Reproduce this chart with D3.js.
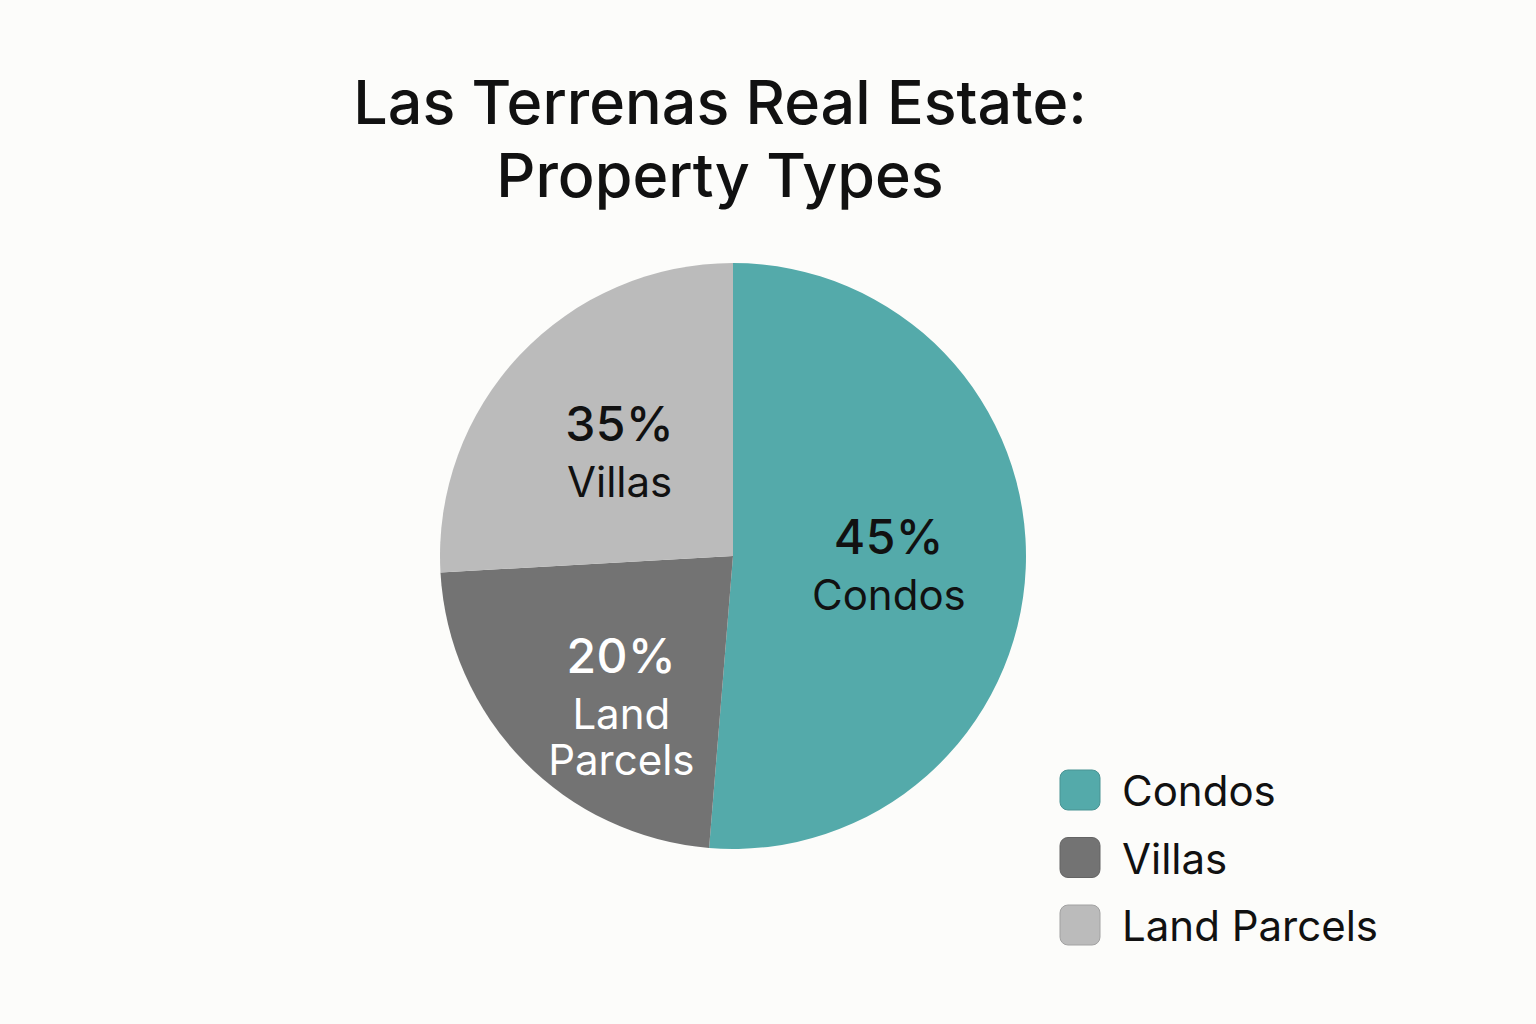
<!DOCTYPE html>
<html>
<head>
<meta charset="utf-8">
<script src="https://cdn.jsdelivr.net/npm/d3@7"></script>
<style>
  body { margin: 0; background: #fcfcfa; }
  svg { display: block; font-family: Inter, "Noto Sans", sans-serif; }
</style>
</head>
<body>
<div id="chart"></div>
<script>
// slice order clockwise from 12 o'clock, as drawn
var categories = ["Condos", "Land Parcels", "Villas"];
// angular shares (the printed % labels don't match the drawn angles)
var shares = [51.3, 22.8, 25.9];
var pctLabels = ["45%", "20%", "35%"];
var nameLines = [["Condos"], ["Land", "Parcels"], ["Villas"]];

var legendNames = ["Condos", "Villas", "Land Parcels"];

var titleLines = ["Las Terrenas Real Estate:", "Property Types"];

var width = 1536;
var height = 1024;
var cx = 733, cy = 556, radius = 293;

var sliceColor = d3.scaleOrdinal()
  .domain(categories)
  .range(["#54aaaa", "#737373", "#bbbbbb"]);
var legendColor = d3.scaleOrdinal()
  .domain(legendNames)
  .range(["#54aaaa", "#737373", "#bbbbbb"]);
var textColor = d3.scaleOrdinal()
  .domain(categories)
  .range(["#111", "#fff", "#111"]);

var svg = d3.select("#chart").append("svg")
  .attr("width", width)
  .attr("height", height);

svg.append("rect").attr("width", width).attr("height", height).attr("fill", "#fcfcfa");

// title
svg.append("g").selectAll("text")
  .data(titleLines)
  .enter().append("text")
  .attr("x", 720)
  .attr("y", function(d, i) { return 124 + i * 73; })
  .attr("text-anchor", "middle")
  .attr("font-size", 61)
  .attr("font-weight", 500)
  .attr("fill", "#111")
  .text(function(d) { return d; });

var pie = d3.pie().sort(null).value(function(d) { return d; });
var arcs = pie(shares);

var arc = d3.arc().innerRadius(0).outerRadius(radius);
var labelArc = d3.arc().innerRadius(156).outerRadius(156);

var g = svg.append("g").attr("transform", "translate(" + cx + "," + cy + ")");

g.selectAll("path")
  .data(arcs)
  .enter().append("path")
  .attr("d", arc)
  .attr("fill", function(d, i) { return sliceColor(categories[i]); });

// labels inside slices
var label = g.selectAll(".label")
  .data(arcs)
  .enter().append("text")
  .attr("class", "label")
  .attr("text-anchor", "middle")
  .attr("fill", function(d, i) { return textColor(categories[i]); })
  .attr("transform", function(d, i) {
    var c = labelArc.centroid(d);
    var n = nameLines[i].length;
    // baseline of the % line, nudged so the block sits around the centroid
    var top = c[1] - 8 + (n - 1) * 16;
    return "translate(" + c[0] + "," + top + ")";
  });

label.append("tspan")
  .attr("x", 0)
  .attr("font-size", 48)
  .attr("font-weight", 500)
  .attr("letter-spacing", 0.5)
  .text(function(d, i) { return pctLabels[i]; });

label.each(function(d, i) {
  var t = d3.select(this);
  nameLines[i].forEach(function(line, j) {
    t.append("tspan")
      .attr("x", 0)
      .attr("dy", j == 0 ? 56 : 46)
      .attr("font-size", 42)
      .text(line);
  });
});

// legend
var legend = svg.append("g").attr("transform", "translate(1060,770)");
var item = legend.selectAll("g")
  .data(legendNames)
  .enter().append("g")
  .attr("transform", function(d, i) { return "translate(0," + i * 67.5 + ")"; });

item.append("rect")
  .attr("width", 40)
  .attr("height", 40)
  .attr("rx", 8)
  .attr("fill", function(d) { return legendColor(d); })
  .attr("stroke", function(d) { return d3.color(legendColor(d)).darker(0.4); })
  .attr("stroke-width", 1);

item.append("text")
  .attr("x", 62)
  .attr("y", 36)
  .attr("font-size", 42)
  .attr("fill", "#111")
  .text(function(d) { return d; });
</script>
</body>
</html>
